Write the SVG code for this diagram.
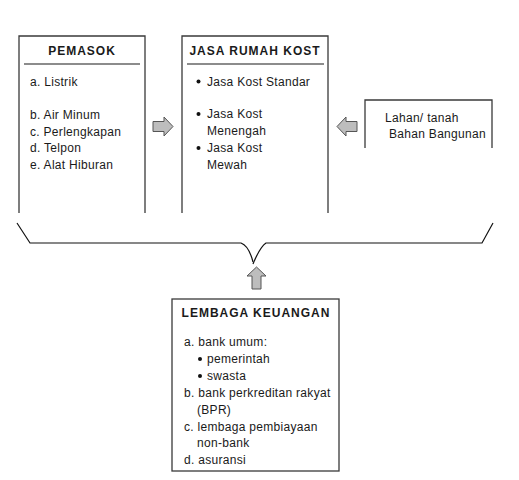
<svg xmlns="http://www.w3.org/2000/svg" width="519" height="480" viewBox="0 0 519 480">
<style>
text{font-family:"Liberation Sans",Arial,sans-serif;font-size:12px;fill:#1a1a1a;letter-spacing:0.3px}
.t{font-weight:bold;letter-spacing:1px;text-anchor:middle}
.box{fill:none;stroke:#3a3a3a;stroke-width:1.3}
.hr{stroke:#666;stroke-width:1.5}
.arr{fill:#bdbdbd;stroke:#555;stroke-width:1}
.br{fill:none;stroke:#111;stroke-width:1.2}
.dot{fill:#111}
</style>
<rect width="519" height="480" fill="#fff"/>
<g id="pemasok">
<path class="box" d="M19,213 V36 H145 V213"/>
<line class="hr" x1="24" y1="64" x2="140" y2="64"/>
<text class="t" x="82" y="55">PEMASOK</text>
<text x="30" y="86">a. Listrik</text>
<text x="30" y="119">b. Air Minum</text>
<text x="30" y="136">c. Perlengkapan</text>
<text x="30" y="152">d. Telpon</text>
<text x="30" y="169">e. Alat Hiburan</text>
</g>
<g id="jasa">
<path class="box" d="M182,213 V36 H328 V213"/>
<line class="hr" x1="187" y1="64" x2="324" y2="64"/>
<text class="t" x="255" y="55">JASA RUMAH KOST</text>
<circle class="dot" cx="198.5" cy="81.5" r="2"/>
<text x="207" y="86">Jasa Kost Standar</text>
<circle class="dot" cx="198.5" cy="114" r="2"/>
<text x="207" y="118">Jasa Kost</text>
<text x="207" y="135">Menengah</text>
<circle class="dot" cx="198.5" cy="148" r="2"/>
<text x="207" y="152">Jasa Kost</text>
<text x="207" y="169">Mewah</text>
</g>
<g id="lahan">
<path class="box" d="M365,148 V100 H492 V148"/>
<text x="385" y="122">Lahan/ tanah</text>
<text x="389" y="138">Bahan Bangunan</text>
</g>
<g id="lembaga">
<rect class="box" x="172" y="299" width="167" height="172"/>
<text class="t" x="256" y="317">LEMBAGA KEUANGAN</text>
<text x="184" y="346">a. bank umum:</text>
<circle class="dot" cx="200" cy="359" r="2"/>
<text x="207" y="363">pemerintah</text>
<circle class="dot" cx="200" cy="376" r="2"/>
<text x="207" y="380">swasta</text>
<text x="184" y="397">b. bank perkreditan rakyat</text>
<text x="197" y="414">(BPR)</text>
<text x="184" y="431">c. lembaga pembiayaan</text>
<text x="197" y="447">non-bank</text>
<text x="184" y="464">d. asuransi</text>
</g>
<g id="connectors">
<path class="arr" d="M153,121.5 H164 V117 L173,126.5 L164,136 V131.5 H153 Z"/>
<path class="arr" d="M357,121.5 H346 V117 L337,126.5 L346,136 V131.5 H357 Z"/>
<path class="arr" d="M252,289 V276 H247 L256.5,267 L266,276 H261 V289 Z"/>
<path class="br" d="M17,223 L30,243 H241 Q249,246 253,262"/>
<path class="br" d="M493,223 L482,243 H266 Q260,247 253,264"/>
</g>
</svg>
